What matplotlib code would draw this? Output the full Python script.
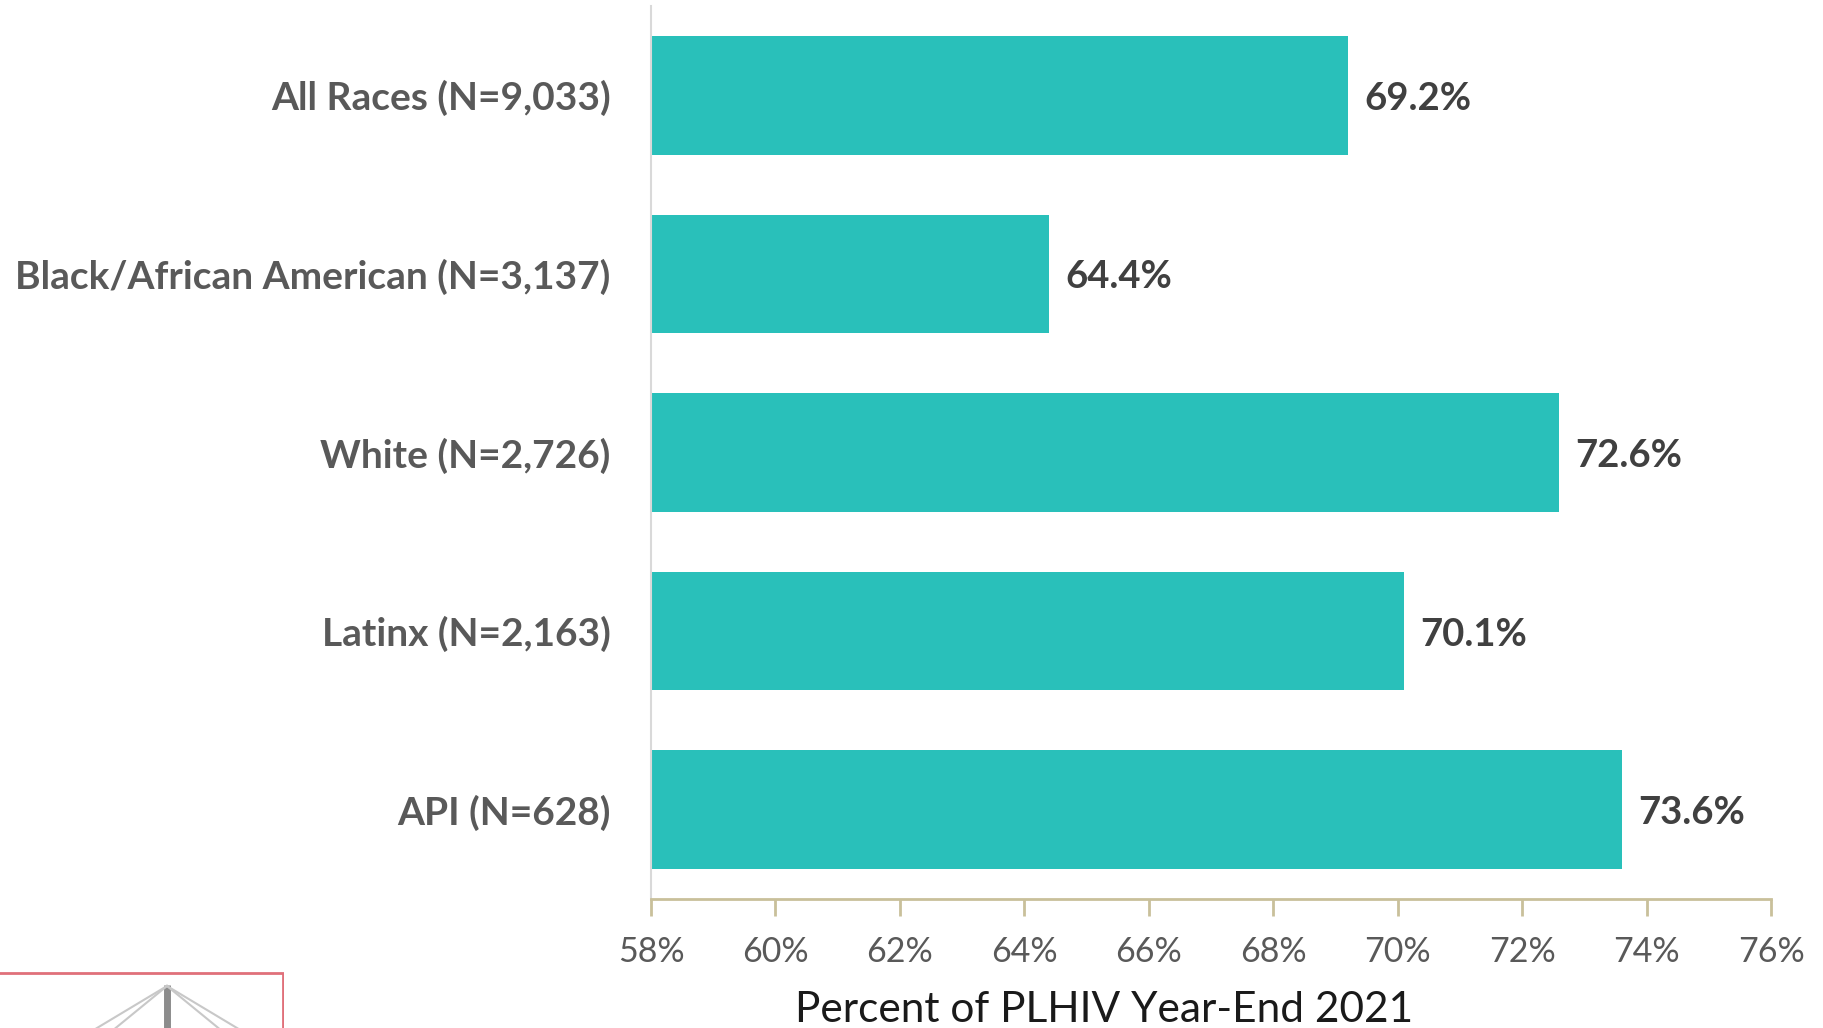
import matplotlib
matplotlib.use("Agg")
import matplotlib.pyplot as plt
from matplotlib.patches import Rectangle

# data
groups = ["All Races (N=9,033)", "Black/African American (N=3,137)",
          "White (N=2,726)", "Latinx (N=2,163)", "API (N=628)"]
pct = [69.2, 64.4, 72.6, 70.1, 73.6]
xticks = [58, 60, 62, 64, 66, 68, 70, 72, 74, 76]

teal = "#29C0BA"
plt.rcParams["font.family"] = ["Lato", "DejaVu Sans"]

fig = plt.figure(figsize=(18.23, 10.28), dpi=100)
ax = fig.add_axes([651 / 1823, 1 - 899 / 1028, (1771 - 651) / 1823, (899 - 6) / 1028])

ypos = list(range(len(groups)))
ax.barh(ypos, [p - 58 for p in pct], left=58, height=0.665, color=teal)
for y, p in zip(ypos, pct):
    ax.text(p + 0.26, y + 0.02, f"{p:.1f}%", va="center", ha="left",
            fontsize=27.5, fontweight="bold", color="#404040")

ax.set_xlim(58, 76)
ax.set_ylim(len(groups) - 0.5, -0.5)
ax.set_yticks(ypos)
ax.set_yticklabels(groups, fontsize=28, fontweight="bold", color="#595959")
ax.tick_params(axis="y", length=0, pad=29)
ax.set_xticks(xticks)
ax.set_xticklabels([f"{t}%" for t in xticks], fontsize=24.5, color="#595959")
ax.tick_params(axis="x", length=12, width=2, color="#C9C09A", pad=15)

for s in ["top", "right"]:
    ax.spines[s].set_visible(False)
ax.spines["bottom"].set_color("#C9C09A")
ax.spines["bottom"].set_linewidth(2)
ax.spines["left"].set_color("#D9D9D9")
ax.spines["left"].set_linewidth(1.5)

fig.text(1104 / 1823, 1 - 1010 / 1028, "Percent of PLHIV Year-End 2021",
         ha="center", va="center", fontsize=30.5, color="#1a1a1a")

# logo fragment in the bottom-left corner
lax = fig.add_axes([0, 0, 284 / 1823, (1028 - 971) / 1028])
lax.set_xlim(0, 284)
lax.set_ylim(57, 0)
lax.axis("off")
lax.add_patch(Rectangle((-5, 1.5), 287.5, 70, fill=False, edgecolor="#E0707A", lw=2))
lax.plot([167, 167], [14, 60], color="#8C8C8C", lw=5, solid_capstyle="butt")
for dx in [-75, -55, 55, 75]:
    lax.plot([167, 167 + dx], [15, 60], color="#C8C8C8", lw=1.5)

fig.savefig("out.png", dpi=100)
